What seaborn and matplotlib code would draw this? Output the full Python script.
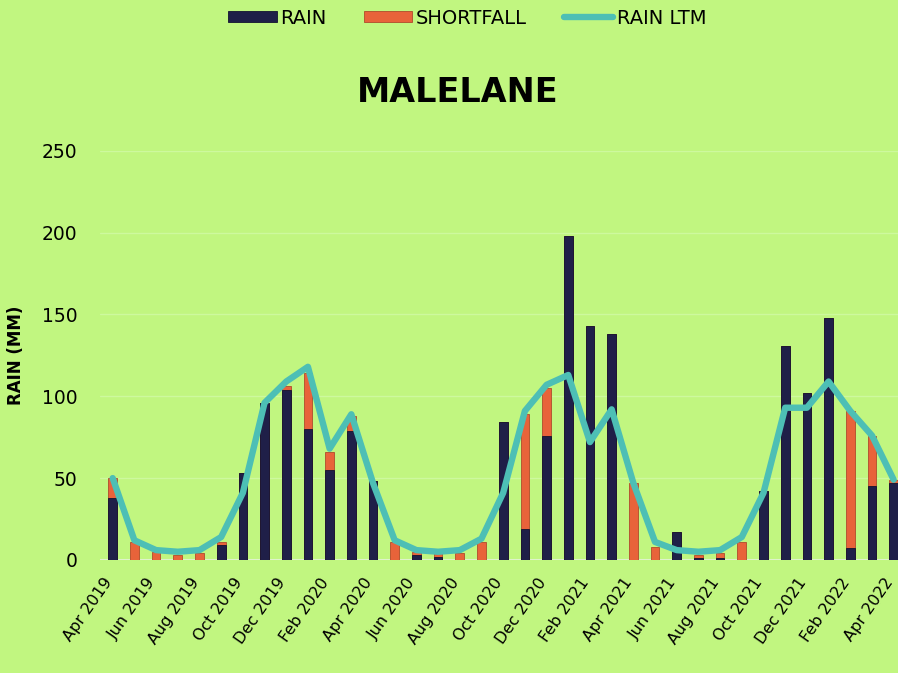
import numpy as np
import pandas as pd
import matplotlib.pyplot as plt
import seaborn as sns

# monthly rainfall at Malelane, Apr 2019 - Apr 2022
months = pd.date_range('2019-04-01', '2022-04-01', freq='MS').strftime('%b %Y').tolist()
rain = [38, 0, 0, 0, 0, 9, 53, 96, 104, 80, 55, 79,
        48, 0, 3, 2, 0, 0, 84, 19, 76, 198, 143, 138,
        0, 0, 17, 1, 1, 0, 42, 131, 102, 148, 7, 45, 47]
shortfall = [12, 11, 5, 3, 4, 2, 0, 0, 2, 34, 11, 9,
             0, 11, 2, 3, 4, 11, 0, 70, 29, 0, 0, 0,
             47, 8, 0, 2, 3, 11, 0, 0, 0, 0, 84, 31, 2]
rain_ltm = [50, 12, 6, 5, 6, 14, 41, 96, 109, 118, 68, 89,
            47, 12, 6, 5, 6, 13, 41, 91, 107, 113, 72, 92,
            47, 11, 6, 5, 6, 14, 41, 93, 93, 109, 91, 76, 49]

df = pd.DataFrame({'month': months, 'rain': rain, 'shortfall': shortfall, 'ltm': rain_ltm})
df['top'] = df['rain'] + df['shortfall']
df['pos'] = np.arange(len(df))

bg = '#c1f680'
sns.set_style('white', {'axes.facecolor': bg, 'figure.facecolor': bg,
                        'text.color': 'black', 'xtick.color': 'black', 'ytick.color': 'black',
                        'axes.labelcolor': 'black'})
plt.rcParams['font.family'] = ['DejaVu Sans']

fig = plt.figure(figsize=(8.98, 6.73), dpi=100)
ax = fig.add_axes([0.111, 0.168, 0.889, 0.608])

# stacked bars: total first, rain drawn over it
sns.barplot(data=df, x='month', y='top', order=months, color='#e8633a', width=0.4,
            saturation=1, edgecolor='#b04a2c', linewidth=0.6, errorbar=None,
            label='SHORTFALL', ax=ax)
sns.barplot(data=df, x='month', y='rain', order=months, color='#1f1f48', width=0.4,
            saturation=1, edgecolor='#121230', linewidth=0.6, errorbar=None,
            label='RAIN', ax=ax)
sns.lineplot(data=df, x='pos', y='ltm', color='#4dbfb5', linewidth=4.6, sort=False,
             label='RAIN LTM', ax=ax)

if ax.get_legend() is not None:
    ax.get_legend().remove()

ax.set_xlim(-0.6, 36.2)
ax.set_ylim(0, 250)
ax.set_yticks(range(0, 251, 50))
ax.set_xticks(range(0, len(months), 2))
ax.set_xticklabels(months[::2], rotation=55, ha='right', va='baseline',
                   rotation_mode='anchor', fontsize=11.5)
ax.tick_params(axis='y', labelsize=13.5, length=0, pad=16)
ax.tick_params(axis='x', length=0, pad=16)
ax.yaxis.grid(True, color='#cdf99e', lw=1)
ax.set_axisbelow(True)
for s in ax.spines.values():
    s.set_visible(False)
ax.axhline(0, color='#e4f2d8', lw=1.5, zorder=0.5)

ax.set_xlabel('')
ax.set_ylabel('RAIN (MM)', fontsize=12, fontweight='bold')
ax.yaxis.set_label_coords(-0.094, 0.5)

fig.text(0.51, 0.862, 'MALELANE', ha='center', va='center', fontsize=24, fontweight='bold')

h, l = ax.get_legend_handles_labels()
lookup = dict(zip(l, h))
order = ['RAIN', 'SHORTFALL', 'RAIN LTM']
fig.legend([lookup[k] for k in order], order, loc='center', bbox_to_anchor=(0.52, 0.973),
           ncol=3, frameon=False, fontsize=14, handlelength=2.5, handleheight=0.5,
           columnspacing=1.9, handletextpad=0.2)

fig.savefig('out.png', dpi=100, facecolor=bg)
